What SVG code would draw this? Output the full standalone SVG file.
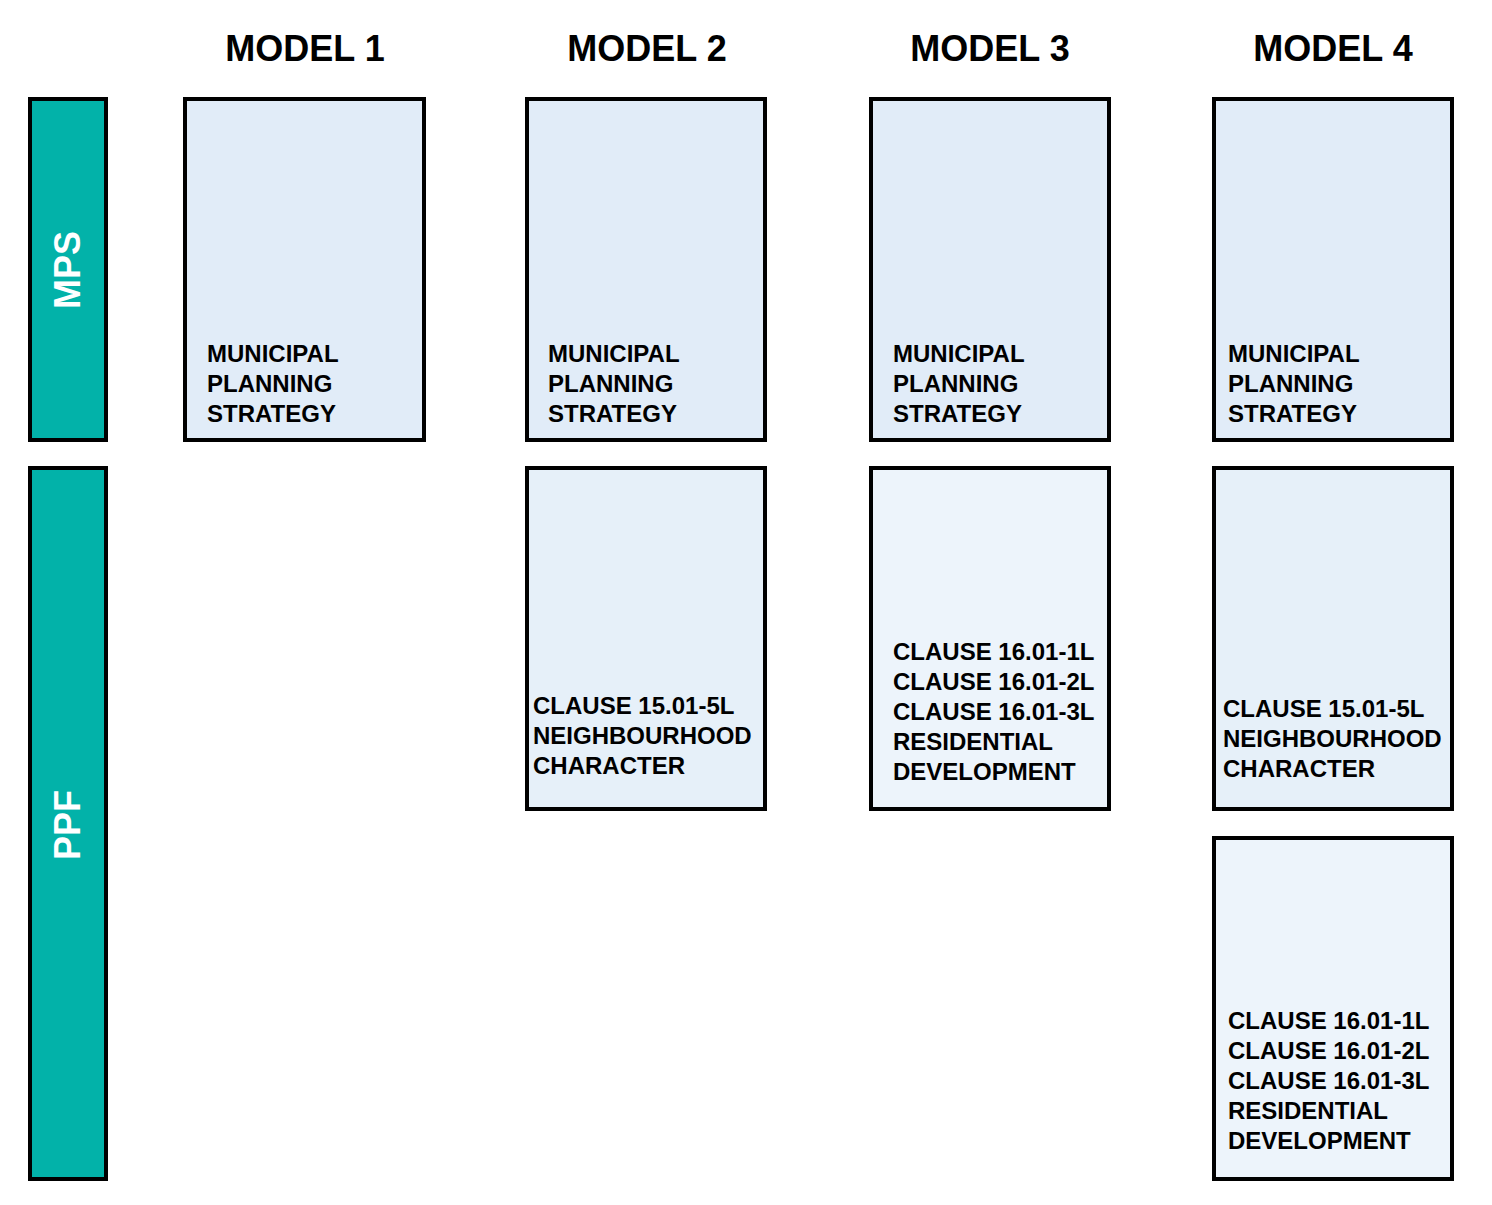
<svg xmlns="http://www.w3.org/2000/svg" width="1492" height="1205" viewBox="0 0 1492 1205">
<style>
.bar{fill:#02B2A9;stroke:#000;stroke-width:4}
.box{stroke:#000;stroke-width:4}
.mps{fill:#E1ECF8}
.nc{fill:#E6F0F9}
.rd{fill:#EDF4FB}
.h{font-family:"Liberation Sans",Arial,sans-serif;font-weight:bold;font-size:36px;fill:#000;text-anchor:middle}
.v{font-family:"Liberation Sans",Arial,sans-serif;font-weight:bold;font-size:36px;fill:#fff;text-anchor:middle}
.t{font-family:"Liberation Sans",Arial,sans-serif;font-weight:bold;font-size:24px;fill:#000}
</style>
<rect width="1492" height="1205" fill="#fff"/>
<g id="headings">
<text class="h" x="305" y="61">MODEL 1</text>
<text class="h" x="647" y="61">MODEL 2</text>
<text class="h" x="990" y="61">MODEL 3</text>
<text class="h" x="1333" y="61">MODEL 4</text>
</g>
<g id="mps-bar">
<rect class="bar" x="30" y="99" width="76" height="341"/>
<text class="v" transform="translate(80,270) rotate(-90)">MPS</text>
</g>
<g id="ppf-bar">
<rect class="bar" x="30" y="468" width="76" height="711"/>
<text class="v" transform="translate(80,825) rotate(-90)">PPF</text>
</g>
<g id="m1-mps">
<rect class="box mps" x="185" y="99" width="239" height="341"/>
<text class="t" x="207" y="362">MUNICIPAL</text>
<text class="t" x="207" y="392">PLANNING</text>
<text class="t" x="207" y="422">STRATEGY</text>
</g>
<g id="m2-mps">
<rect class="box mps" x="527" y="99" width="238" height="341"/>
<text class="t" x="548" y="362">MUNICIPAL</text>
<text class="t" x="548" y="392">PLANNING</text>
<text class="t" x="548" y="422">STRATEGY</text>
</g>
<g id="m3-mps">
<rect class="box mps" x="871" y="99" width="238" height="341"/>
<text class="t" x="893" y="362">MUNICIPAL</text>
<text class="t" x="893" y="392">PLANNING</text>
<text class="t" x="893" y="422">STRATEGY</text>
</g>
<g id="m4-mps">
<rect class="box mps" x="1214" y="99" width="238" height="341"/>
<text class="t" x="1228" y="362">MUNICIPAL</text>
<text class="t" x="1228" y="392">PLANNING</text>
<text class="t" x="1228" y="422">STRATEGY</text>
</g>
<g id="m2-ppf">
<rect class="box nc" x="527" y="468" width="238" height="341"/>
<text class="t" x="533" y="714">CLAUSE 15.01-5L</text>
<text class="t" x="533" y="744">NEIGHBOURHOOD</text>
<text class="t" x="533" y="774">CHARACTER</text>
</g>
<g id="m3-ppf">
<rect class="box rd" x="871" y="468" width="238" height="341"/>
<text class="t" x="893" y="660">CLAUSE 16.01-1L</text>
<text class="t" x="893" y="690">CLAUSE 16.01-2L</text>
<text class="t" x="893" y="720">CLAUSE 16.01-3L</text>
<text class="t" x="893" y="750">RESIDENTIAL</text>
<text class="t" x="893" y="780">DEVELOPMENT</text>
</g>
<g id="m4-ppf-nc">
<rect class="box nc" x="1214" y="468" width="238" height="341"/>
<text class="t" x="1223" y="717">CLAUSE 15.01-5L</text>
<text class="t" x="1223" y="747">NEIGHBOURHOOD</text>
<text class="t" x="1223" y="777">CHARACTER</text>
</g>
<g id="m4-ppf-rd">
<rect class="box rd" x="1214" y="838" width="238" height="341"/>
<text class="t" x="1228" y="1029">CLAUSE 16.01-1L</text>
<text class="t" x="1228" y="1059">CLAUSE 16.01-2L</text>
<text class="t" x="1228" y="1089">CLAUSE 16.01-3L</text>
<text class="t" x="1228" y="1119">RESIDENTIAL</text>
<text class="t" x="1228" y="1149">DEVELOPMENT</text>
</g>
<g id="connectors"/>
</svg>
